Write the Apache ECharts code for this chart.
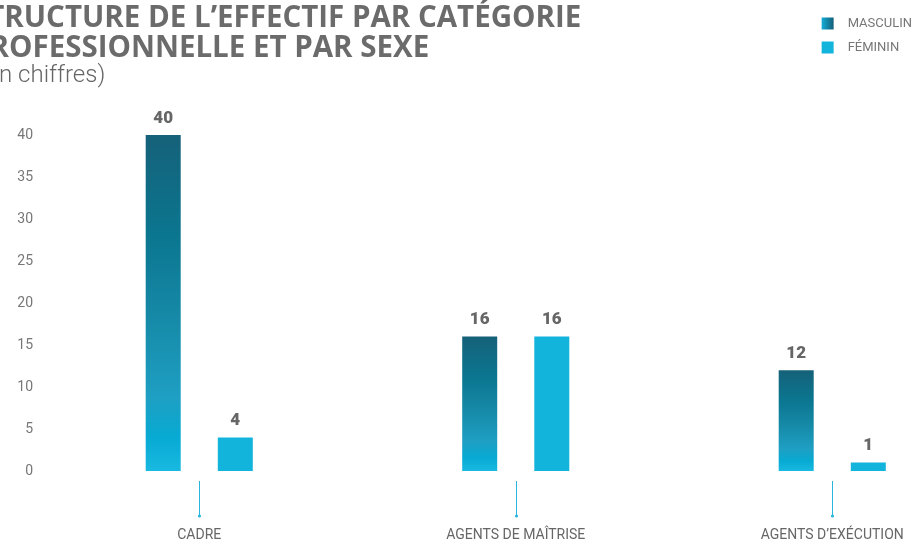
<!DOCTYPE html>
<html><head><meta charset="utf-8">
<script src="https://cdn.jsdelivr.net/npm/echarts@6/dist/echarts.min.js"></script>
<style>html,body{margin:0;padding:0;background:#fff}#c{width:917px;height:542px}</style>
</head><body><div id="c"></div>
<script>
const categories = ['CADRE', 'AGENTS DE MAÎTRISE', 'AGENTS D\u2019EXÉCUTION'];
const masculin = [40, 16, 12];
const feminin = [4, 16, 1];
const yTicks = [0, 5, 10, 15, 20, 25, 30, 35, 40];
const titleText = 'STRUCTURE DE L\u2019EFFECTIF PAR CATÉGORIE\nPROFESSIONNELLE ET PAR SEXE';
const subText = '(en chiffres)';

const chart = echarts.init(document.getElementById('c'));
const mascGrad = new echarts.graphic.LinearGradient(0, 0, 0, 1, [
  {offset: 0, color: '#156179'},
  {offset: 0.3, color: '#0b7690'},
  {offset: 0.55, color: '#168aa8'},
  {offset: 0.78, color: '#1e9fc3'},
  {offset: 0.9, color: '#07aad3'},
  {offset: 1, color: '#19b9e1'}
]);
const mascLegend = new echarts.graphic.LinearGradient(0, 0, 1, 0, [
  {offset: 0, color: '#14acd8'},
  {offset: 1, color: '#145e78'}
]);
const fem = '#13b4dc';
const tickBlue = '#2ab5df';
const lbl = {show: true, position: 'top', distance: 8, color: '#666', fontFamily: 'Roboto', fontWeight: 900, fontSize: 17};

function renderTick(params, api) {
  const p = api.coord([api.value(0), 0]);
  const x = Math.round(p[0]) + 0.5;
  return {
    type: 'group',
    children: [
      {type: 'line', shape: {x1: x, y1: p[1] + 10, x2: x, y2: p[1] + 45}, style: {stroke: tickBlue, lineWidth: 1}},
      {type: 'circle', shape: {cx: x, cy: p[1] + 45, r: 1.6}, style: {fill: tickBlue}}
    ]
  };
}

chart.setOption({
  animation: false,
  title: [{
    text: titleText, left: -34, top: -1,
    textStyle: {fontFamily: 'Open Sans', fontWeight: 'bold', fontSize: 29.5, lineHeight: 30, color: '#6b6b6b'}
  }, {
    text: subText, left: -26, top: 59,
    textStyle: {fontFamily: 'Roboto', fontWeight: 300, fontSize: 24, color: '#666'}
  }],
  legend: {
    orient: 'vertical', right: 0, top: 12, itemWidth: 12, itemHeight: 12, itemGap: 11, icon: 'rect',
    textStyle: {fontFamily: 'Roboto', fontSize: 13, color: '#777', padding: [0, 0, 0, 9]},
    data: [{name: 'MASCULIN', itemStyle: {color: mascLegend}}, {name: 'FÉMININ'}]
  },
  grid: {left: 41, width: 949.5, top: 135, bottom: 71, outerBoundsMode: 'none', containLabel: false},
  xAxis: {
    type: 'category', data: categories,
    axisLine: {show: false},
    axisTick: {show: false},
    axisLabel: {margin: 57, color: '#666', fontFamily: 'Roboto', fontSize: 14}
  },
  yAxis: {
    type: 'value', min: yTicks[0], max: yTicks[yTicks.length - 1], interval: 5,
    splitLine: {show: false}, axisLine: {show: false}, axisTick: {show: false},
    axisLabel: {margin: 8, color: '#777', fontFamily: 'Roboto', fontSize: 14, padding: [5, 0, 0, 0]}
  },
  series: [
    {name: 'MASCULIN', type: 'bar', data: masculin, barWidth: 35, barGap: '106%', itemStyle: {color: mascGrad}, label: lbl},
    {name: 'FÉMININ', type: 'bar', data: feminin, barWidth: 35, itemStyle: {color: fem}, label: lbl},
    {name: 'ticks', type: 'custom', data: categories.map((c, i) => [i]), renderItem: renderTick, clip: false, silent: true}
  ]
});
</script></body></html>
